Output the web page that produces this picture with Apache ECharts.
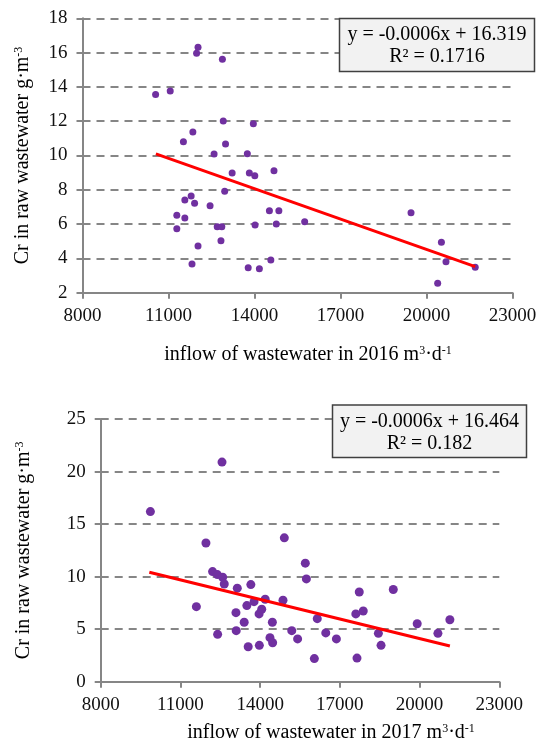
<!DOCTYPE html>
<html><head><meta charset="utf-8">
<script src="https://cdn.jsdelivr.net/npm/echarts@6/dist/echarts.min.js"></script>
<style>html,body{margin:0;padding:0;background:#fff}#c{width:540px;height:747px}</style>
</head><body><div id="c"></div><script>
// ---- 2016 data ----
const inflow2016 = [10550,11060,12030,11980,12880,12910,13960,11850,11520,12990,12590,13750,13220,13820,14010,14680,12960,11790,11570,11910,12450,11290,11570,11290,12700,12860,12830,12030,11820,14020,14520,14850,14760,15750,14570,13780,14170,19460,20520,20680,20390,21700];
const cr2016 =     [13.55,13.76,16.31,15.96,15.61,12.01,11.85,11.37,10.80,10.67,10.09,10.10,8.98,8.98,8.82,9.11,7.91,7.64,7.41,7.21,7.07,6.51,6.36,5.73,5.85,5.85,5.03,4.72,3.67,5.95,6.78,6.78,6.00,6.14,3.91,3.46,3.40,6.66,4.94,3.81,2.55,3.48];
const trend2016X = [10560, 21700];
const trend2016Y = [10.09, 3.52];
const eq2016 = ['y = -0.0006x + 16.319', 'R² = 0.1716'];
// ---- 2017 data ----
const inflow2017 = [12565,9870,11960,14910,12210,12390,12590,12650,13140,13650,11600,13500,13770,14190,14860,13090,13960,14060,13400,14460,13100,12400,15190,15410,14370,14470,13550,13970,15700,15740,17730,19010,17600,17880,16150,16470,16870,18450,18550,19910,20690,21140,16040,17645];
const cr2017 =     [20.9,16.19,13.2,13.69,10.48,10.19,9.94,9.30,8.90,9.24,7.14,7.24,7.62,7.85,7.75,6.57,6.45,6.90,5.66,5.66,4.86,4.51,4.86,4.07,4.19,3.71,3.33,3.46,11.28,9.78,8.54,8.77,6.45,6.73,6.00,4.64,4.07,4.60,3.46,5.52,4.60,5.90,2.2,2.25];
const trend2017X = [9830, 21140];
const trend2017Y = [10.42, 3.40];
const eq2017 = ['y = -0.0006x + 16.464', 'R² = 0.182'];
// ---- ticks ----
const xTicks = [8000, 11000, 14000, 17000, 20000, 23000];
const yRange2016 = [2, 18, 2];
const yRange2017 = [0, 25, 5];

const zip = (a, b) => a.map((v, i) => [v, b[i]]);
const FONT = 'Liberation Serif';
const GRAY = '#868686';
const PURPLE = '#7030A0';
const rich = {
  n: {fontSize: 20, fontFamily: FONT, color: '#000'},
  s: {fontSize: 12, fontFamily: FONT, color: '#000', verticalAlign: 'top'}
};

function xAxisFor(gi, name, pad, gap) {
  return {
    type: 'value', gridIndex: gi, min: xTicks[0], max: xTicks[xTicks.length - 1], interval: 3000,
    axisLine: {show: true, lineStyle: {color: GRAY, width: 2}},
    axisTick: {show: true, length: 6, customValues: xTicks, lineStyle: {color: GRAY, width: 2}},
    axisLabel: {customValues: xTicks, formatter: v => String(v), fontFamily: FONT, fontSize: 19, color: '#111', margin: 14},
    splitLine: {show: false},
    name: name, nameLocation: 'middle', nameGap: gap,
    nameTextStyle: {rich: rich, padding: pad}
  };
}
function yAxisFor(gi, r, gap) {
  return {
    type: 'value', gridIndex: gi, min: r[0], max: r[1], interval: r[2],
    axisLine: {show: true, lineStyle: {color: GRAY, width: 2}},
    axisTick: {show: true, length: 6, lineStyle: {color: GRAY, width: 2}},
    axisLabel: {fontFamily: FONT, fontSize: 19, color: '#111', margin: 15},
    splitLine: {show: true, lineStyle: {color: GRAY, width: 2, type: [8, 6]}},
    name: '{n|Cr in raw wastewater g·m}{s|-3}', nameLocation: 'middle', nameRotate: 90, nameGap: gap,
    nameTextStyle: {rich: rich}
  };
}
function eqBox(x, y, w, h, lines) {
  const cx = x + w / 2;
  return [
    {type: 'rect', shape: {x: x, y: y, width: w, height: h}, style: {fill: '#f2f2f2', stroke: '#404040', lineWidth: 1.5}, z: 10},
    {type: 'text', x: cx, y: y + h * 0.31, style: {text: lines[0], font: '20px "' + FONT + '"', fill: '#000', align: 'center', verticalAlign: 'middle'}, z: 11},
    {type: 'text', x: cx, y: y + h * 0.73, style: {text: lines[1], font: '20px "' + FONT + '"', fill: '#000', align: 'center', verticalAlign: 'middle'}, z: 11}
  ];
}

const chart = echarts.init(document.getElementById('c'), null, {renderer: 'canvas'});
chart.setOption({
  animation: false,
  backgroundColor: '#fff',
  grid: [
    {left: 82.5, top: 18.3, width: 430, height: 274.4, containLabel: false, outerBoundsMode: 'none'},
    {left: 100.7, top: 419, width: 398.6, height: 262.7, containLabel: false, outerBoundsMode: 'none'}
  ],
  xAxis: [
    xAxisFor(0, '{n|inflow of wastewater in 2016 m}{s|3}{n|·d}{s|-1}', [0, 0, 0, 21], 52),
    xAxisFor(1, '{n|inflow of wastewater in 2017 m}{s|3}{n|·d}{s|-1}', [0, 0, 0, 62], 41)
  ],
  yAxis: [
    yAxisFor(0, yRange2016, 50),
    yAxisFor(1, yRange2017, 67)
  ],
  series: [
    {type: 'scatter', xAxisIndex: 0, yAxisIndex: 0, data: zip(inflow2016, cr2016), symbolSize: 7, itemStyle: {color: PURPLE, opacity: 1}, z: 3},
    {type: 'line', xAxisIndex: 0, yAxisIndex: 0, data: zip(trend2016X, trend2016Y), showSymbol: false, lineStyle: {color: '#ff0000', width: 3}, z: 4},
    {type: 'scatter', xAxisIndex: 1, yAxisIndex: 1, data: zip(inflow2017, cr2017), symbolSize: 9, itemStyle: {color: PURPLE, opacity: 1}, z: 3},
    {type: 'line', xAxisIndex: 1, yAxisIndex: 1, data: zip(trend2017X, trend2017Y), showSymbol: false, lineStyle: {color: '#ff0000', width: 3}, z: 4}
  ],
  graphic: [].concat(eqBox(339.5, 18.5, 195, 53, eq2016), eqBox(332.5, 405, 194, 52.5, eq2017))
});
</script></body></html>
